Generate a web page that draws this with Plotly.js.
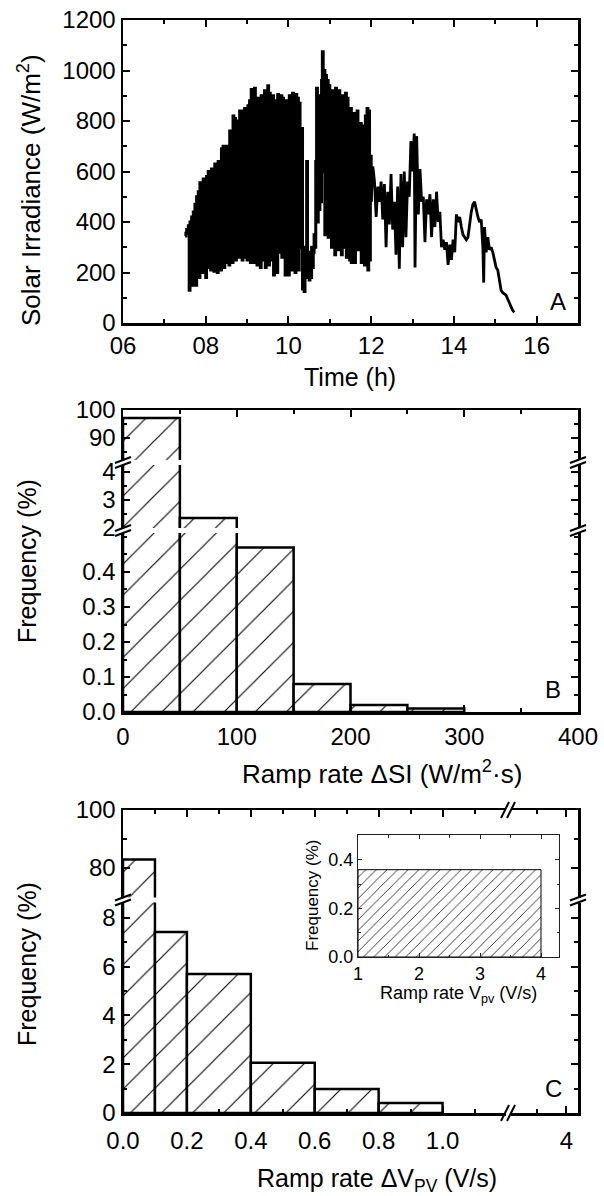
<!DOCTYPE html>
<html><head><meta charset="utf-8">
<script src="https://cdn.plot.ly/plotly-3.0.1.min.js"></script>
<style>
html,body{margin:0;padding:0;background:#fff}#chart{width:604px;height:1196px}
</style>
</head><body><div id="chart"></div>
<script>
// ---------- Panel A: solar irradiance time series ----------
const timeH = [
7.50,7.52,7.54,7.56,7.58,7.60,7.62,7.64,7.66,7.68,
7.70,7.72,7.74,7.76,7.78,7.80,7.82,7.84,7.86,7.88,
7.90,7.92,7.94,7.96,7.98,8.00,8.02,8.04,8.06,8.08,
8.10,8.12,8.14,8.16,8.18,8.20,8.22,8.24,8.26,8.28,
8.30,8.32,8.34,8.36,8.38,8.40,8.42,8.44,8.46,8.48,
8.50,8.52,8.54,8.56,8.58,8.60,8.62,8.64,8.66,8.68,
8.70,8.72,8.74,8.76,8.78,8.80,8.82,8.84,8.86,8.88,
8.90,8.92,8.94,8.96,8.98,9.00,9.02,9.04,9.06,9.08,
9.10,9.12,9.14,9.16,9.18,9.20,9.22,9.24,9.26,9.28,
9.30,9.32,9.34,9.36,9.38,9.40,9.42,9.44,9.46,9.48,
9.50,9.52,9.54,9.56,9.58,9.60,9.62,9.64,9.66,9.68,
9.70,9.72,9.74,9.76,9.78,9.80,9.82,9.84,9.86,9.88,
9.90,9.92,9.94,9.96,9.98,10.00,10.02,10.04,10.06,10.08,
10.10,10.12,10.14,10.16,10.18,10.20,10.22,10.24,10.26,10.28,
10.30,10.32,10.34,10.36,10.38,10.40,10.42,10.44,10.46,10.48,
10.50,10.52,10.54,10.56,10.58,10.60,10.62,10.64,10.66,10.68,
10.70,10.72,10.74,10.76,10.78,10.80,10.82,10.84,10.86,10.88,
10.90,10.92,10.94,10.96,10.98,11.00,11.02,11.04,11.06,11.08,
11.10,11.12,11.14,11.16,11.18,11.20,11.22,11.24,11.26,11.28,
11.30,11.32,11.34,11.36,11.38,11.40,11.42,11.44,11.46,11.48,
11.50,11.52,11.54,11.56,11.58,11.60,11.62,11.64,11.66,11.68,
11.70,11.72,11.74,11.76,11.78,11.80,11.82,11.84,11.86,11.88,
11.90,11.92,11.94,11.96,11.98,12.00,
12.04,12.08,12.12,12.16,12.20,12.24,12.28,12.32,12.36,12.40,
12.44,12.48,12.52,12.56,12.60,12.64,12.68,12.72,12.76,12.80,
12.84,12.88,12.92,12.96,13.00,13.04,13.06,13.10,13.14,13.18,
13.22,13.26,13.30,13.34,13.38,13.42,13.46,13.50,13.54,13.58,
13.62,13.66,13.70,13.74,13.78,13.82,13.86,13.90,13.94,13.98,
14.02,14.06,14.10,14.14,14.18,14.22,14.26,14.30,14.34,14.38,
14.42,14.46,14.50,14.54,14.58,14.62,14.66,14.70,14.72,14.74,
14.78,14.82,14.86,14.90,14.94,14.98,15.02,15.06,15.10,15.14,
15.18,15.22,15.26,15.30,15.34,15.38,15.42,15.46
];
const irradiance = [
345,355,370,360,385,130,400,290,420,150,
440,290,470,150,500,210,520,180,555,260,
540,200,570,230,520,180,580,300,600,220,
560,210,610,250,590,205,630,330,600,200,
640,260,620,210,690,280,700,220,650,240,
700,300,690,230,760,260,720,240,820,350,
810,250,800,280,790,260,840,400,830,250,
840,300,850,260,800,250,860,350,880,240,
925,300,900,240,930,280,870,230,890,330,
860,220,900,260,880,250,920,220,900,300,
940,230,910,280,850,250,900,190,870,350,
880,200,905,300,860,280,900,260,890,400,
860,190,880,270,850,190,900,260,870,210,
910,230,880,200,905,280,890,210,870,400,
300,770,135,300,125,260,180,640,200,280,
170,250,180,300,220,280,350,300,640,930,
400,820,450,900,480,960,1074,600,1000,350,
980,500,960,340,940,580,900,300,920,400,
900,270,930,350,910,290,920,330,880,270,
900,400,880,300,910,260,890,320,800,250,
850,240,780,300,830,240,780,380,840,290,
760,600,790,240,780,300,700,230,820,300,
850,210,840,250,660,480,
620,560,420,540,480,560,410,550,300,520,
390,590,370,480,270,540,215,590,300,600,
340,560,500,720,600,750,220,740,430,610,
480,500,320,490,430,510,340,490,380,520,
400,440,300,330,290,320,230,310,250,330,
280,430,400,420,380,350,340,330,340,390,
440,470,480,450,420,400,410,300,160,380,
280,340,290,300,280,250,220,210,170,130,
120,115,110,95,80,65,50,42
];
const denseUntilH = 12.0;   // samples before noon are drawn as dense vertical strokes
const hourTickVals = [6, 8, 10, 12, 14, 16];
const hourTickText = ['06', '08', '10', '12', '14', '16'];

// ---------- Panel B: ramp rate of solar irradiance ----------
const siBinStart = [0, 50, 100, 150, 200, 250];
const siBinEnd = [50, 100, 150, 200, 250, 300];
const siFrequency = [97.1, 2.36, 0.47, 0.08, 0.02, 0.01];
const siLowTicks = [0, 0.1, 0.2, 0.3, 0.4];

// ---------- Panel C: ramp rate of PV voltage ----------
const vBinStart = [0, 0.1, 0.2, 0.4, 0.6, 0.8];
const vBinEnd = [0.1, 0.2, 0.4, 0.6, 0.8, 1.0];
const vFrequency = [82.8, 7.42, 5.70, 2.06, 0.98, 0.41];

// inset
const insetBinStart = [1];
const insetBinEnd = [4];
const insetFrequency = [0.36];

// ---------- geometry helpers ----------
const W = 604, H = 1196;
const fx = p => p / W;
const fy = p => 1 - p / H;
const FONT = 'Liberation Sans, Arial, Helvetica, sans-serif';
const L = 123, R = 578;

const centers = (a, b) => a.map((v, i) => (v + b[i]) / 2);
const widths = (a, b) => a.map((v, i) => b[i] - v);

const hatch = (size, sol) => ({shape: '/', size: size, solidity: sol, fgcolor: 'black', bgcolor: 'white', fillmode: 'replace'});

function barTrace(xs, xe, ys, xa, ya, pat, lw) {
  return {type: 'bar', x: centers(xs, xe), y: ys, width: widths(xs, xe), xaxis: xa, yaxis: ya,
    marker: {color: 'white', line: {color: 'black', width: lw}, pattern: pat},
    hoverinfo: 'skip', showlegend: false};
}
function emptyTrace(xa, ya) {
  return {type: 'scatter', mode: 'lines', x: [], y: [], xaxis: xa, yaxis: ya, hoverinfo: 'skip', showlegend: false};
}

const splitIdx = timeH.findIndex(t => t >= denseUntilH);

const data = [
  {type: 'scatter', mode: 'lines', x: timeH.slice(0, splitIdx + 1), y: irradiance.slice(0, splitIdx + 1),
   xaxis: 'x', yaxis: 'y', line: {color: 'black', width: 3, simplify: false, shape: 'hv'},
   hoverinfo: 'skip', showlegend: false},
  {type: 'scatter', mode: 'lines', x: timeH.slice(splitIdx), y: irradiance.slice(splitIdx),
   xaxis: 'x', yaxis: 'y', line: {color: 'black', width: 2.8, simplify: false},
   hoverinfo: 'skip', showlegend: false},
  barTrace(siBinStart, siBinEnd, siFrequency, 'x2', 'y2', hatch(22, 0.05), 2.5),
  barTrace(siBinStart, siBinEnd, siFrequency, 'x2', 'y3', hatch(22, 0.05), 2.5),
  barTrace(siBinStart, siBinEnd, siFrequency, 'x2', 'y4', hatch(22, 0.05), 2.5),
  barTrace(vBinStart, vBinEnd, vFrequency, 'x3', 'y5', hatch(22, 0.05), 2.5),
  barTrace(vBinStart, vBinEnd, vFrequency, 'x3', 'y6', hatch(22, 0.05), 2.5),
  barTrace(insetBinStart, insetBinEnd, insetFrequency, 'x8', 'y9', hatch(7.5, 0.1), 1),
  emptyTrace('x4', 'y5'), emptyTrace('x4', 'y6'),
  emptyTrace('x5', 'y4'), emptyTrace('x6', 'y6'), emptyTrace('x7', 'y6'),
  emptyTrace('x4', 'y7'), emptyTrace('x4', 'y8')
];

const tickFont = {family: FONT, size: 24, color: 'black'};
function ax(extra) {
  return Object.assign({showline: true, linecolor: 'black', linewidth: 2.5, ticks: 'inside', ticklen: 7,
    tickwidth: 2, tickcolor: 'black', showgrid: false, zeroline: false, tickfont: tickFont, fixedrange: true}, extra);
}
function minor(extra) {
  return Object.assign({ticks: 'inside', ticklen: 4, tickwidth: 2, tickcolor: 'black', showgrid: false}, extra);
}
function inax(extra) {
  return Object.assign({showline: true, linecolor: '#222', linewidth: 1, ticks: 'inside', ticklen: 4,
    tickwidth: 1, tickcolor: '#222', showgrid: false, zeroline: false, mirror: 'ticks',
    tickfont: {family: FONT, size: 18, color: 'black'}, fixedrange: true}, extra);
}

const layout = {
  width: W, height: H, margin: {l: 0, r: 0, t: 0, b: 0},
  paper_bgcolor: 'white', plot_bgcolor: 'rgba(0,0,0,0)', showlegend: false, barmode: 'overlay',
  font: {family: FONT, color: 'black'},
  // Panel A
  xaxis: ax({domain: [fx(L), fx(R)], anchor: 'y', range: [6, 17], tickvals: hourTickVals, ticktext: hourTickText,
    minor: minor({dtick: 1}), mirror: 'ticks'}),
  yaxis: ax({domain: [fy(323), fy(20)], anchor: 'x', range: [0, 1200], dtick: 200,
    minor: minor({dtick: 100}), mirror: 'ticks'}),
  // Panel B
  xaxis2: ax({domain: [fx(L), fx(R)], anchor: 'y2', range: [0, 400], dtick: 100, minor: minor({dtick: 50}),
    ticklabelstandoff: 2}),
  xaxis5: ax({overlaying: 'x2', anchor: 'y4', side: 'top', range: [0, 400], dtick: 100, showticklabels: false,
    minor: minor({dtick: 50})}),
  yaxis2: ax({domain: [fy(712), fy(533)], anchor: 'x2', range: [0, 0.5114], tickvals: siLowTicks, tickformat: '.1f',
    minor: minor({dtick: 0.05}), mirror: 'ticks'}),
  yaxis3: ax({domain: [fy(528), fy(465)], anchor: 'x2', range: [2, 4.25], tickvals: [2, 3, 4],
    minor: minor({tickvals: [2.5, 3.5]}), mirror: 'ticks'}),
  yaxis4: ax({domain: [fy(460), fy(410)], anchor: 'x2', range: [82.14, 100], tickvals: [90, 100],
    minor: minor({tickvals: [85, 95]}), mirror: 'ticks'}),
  // Panel C
  xaxis3: ax({domain: [fx(L), fx(505.5)], anchor: 'y5', range: [0, 1.197], tick0: 0, dtick: 0.2, tickformat: '.1f',
    minor: minor({dtick: 0.1}), ticklabelstandoff: 5}),
  xaxis4: ax({domain: [fx(510.5), fx(R)], anchor: 'y5', range: [3.52, 4.10], tickvals: [4],
    minor: minor({tickvals: [3.75]}), ticklabelstandoff: 5}),
  xaxis6: ax({overlaying: 'x3', anchor: 'y6', side: 'top', range: [0, 1.197], tick0: 0, dtick: 0.2,
    showticklabels: false, minor: minor({dtick: 0.1})}),
  xaxis7: ax({overlaying: 'x4', anchor: 'y6', side: 'top', range: [3.52, 4.10], tickvals: [4],
    showticklabels: false, minor: minor({tickvals: [3.75]})}),
  yaxis5: ax({domain: [fy(1113), fy(902.5)], anchor: 'x3', range: [0, 8.627], dtick: 2, minor: minor({dtick: 1})}),
  yaxis6: ax({domain: [fy(897.5), fy(810)], anchor: 'x3', range: [69.57, 100], tickvals: [80, 100],
    minor: minor({tickvals: [90]})}),
  yaxis7: ax({overlaying: 'y5', anchor: 'x4', side: 'right', range: [0, 8.627], dtick: 2, showticklabels: false,
    minor: minor({dtick: 1})}),
  yaxis8: ax({overlaying: 'y6', anchor: 'x4', side: 'right', range: [69.57, 100], tickvals: [80, 100],
    showticklabels: false, minor: minor({tickvals: [90]})}),
  // Inset
  xaxis8: inax({domain: [fx(358), fx(559)], anchor: 'y9', range: [1, 4.295], tickvals: [1, 2, 3, 4],
    minor: {ticks: 'inside', ticklen: 2.5, tickwidth: 1, tickcolor: '#222', dtick: 0.5}}),
  yaxis9: inax({domain: [fy(957), fy(835)], anchor: 'x8', range: [0, 0.503], dtick: 0.2, tickformat: '.1f',
    minor: {ticks: 'inside', ticklen: 2.5, tickwidth: 1, tickcolor: '#222', dtick: 0.1}}),
  annotations: [],
  shapes: []
};

function note(text, px, py, size, angle) {
  layout.annotations.push({text: text, x: fx(px), y: fy(py), xref: 'paper', yref: 'paper', showarrow: false,
    xanchor: 'center', yanchor: 'middle', textangle: angle || 0, font: {family: FONT, size: size, color: 'black'}});
}
note('Solar Irradiance (W/m<sup>2</sup>)', 29, 190, 26, -90);
note('Time (h)', 350, 377, 25);
note('A', 558, 301, 24);
note('Frequency (%)', 27, 561, 25, -90);
note('Ramp rate ΔSI (W/m<sup>2</sup>·s)', 382, 772, 26);
note('B', 553, 690, 24);
note('Frequency (%)', 27, 964, 25, -90);
note('Ramp rate ΔV<sub>PV</sub> (V/s)', 377, 1180, 25);
note('C', 553, 1088, 24);
note('Ramp rate V<sub>pv</sub> (V/s)', 458, 994, 18);
note('Frequency (%)', 313, 896, 17, -90);

function seg(x0, y0, x1, y1, w) {
  layout.shapes.push({type: 'line', xref: 'paper', yref: 'paper', x0: fx(x0), y0: fy(y0), x1: fx(x1), y1: fy(y1),
    line: {color: 'black', width: w || 2}});
}
function wrect(x0, y0, x1, y1) {
  layout.shapes.push({type: 'rect', xref: 'paper', yref: 'paper', x0: fx(x0), y0: fy(y0), x1: fx(x1), y1: fy(y1),
    line: {width: 0}, fillcolor: 'white'});
}
// axis breaks
function ybreak(xc, yc) {
  wrect(xc - 3, yc - 2, xc + 3, yc + 2);
  seg(xc - 8, yc + 5.5, xc + 8, yc - 0.5);
  seg(xc - 8, yc + 0.5, xc + 8, yc - 5.5);
}
function xbreak(xc, yc) {
  wrect(xc - 2, yc - 3, xc + 2, yc + 3);
  seg(xc - 7, yc + 8, xc + 1, yc - 8);
  seg(xc - 1, yc + 8, xc + 7, yc - 8);
}
[L, R].forEach(xc => { ybreak(xc, 462.5); ybreak(xc, 530.5); ybreak(xc, 900); });
xbreak(508, 810); xbreak(508, 1113);

Plotly.newPlot('chart', data, layout, {staticPlot: true, displayModeBar: false});
</script>
</body></html>
